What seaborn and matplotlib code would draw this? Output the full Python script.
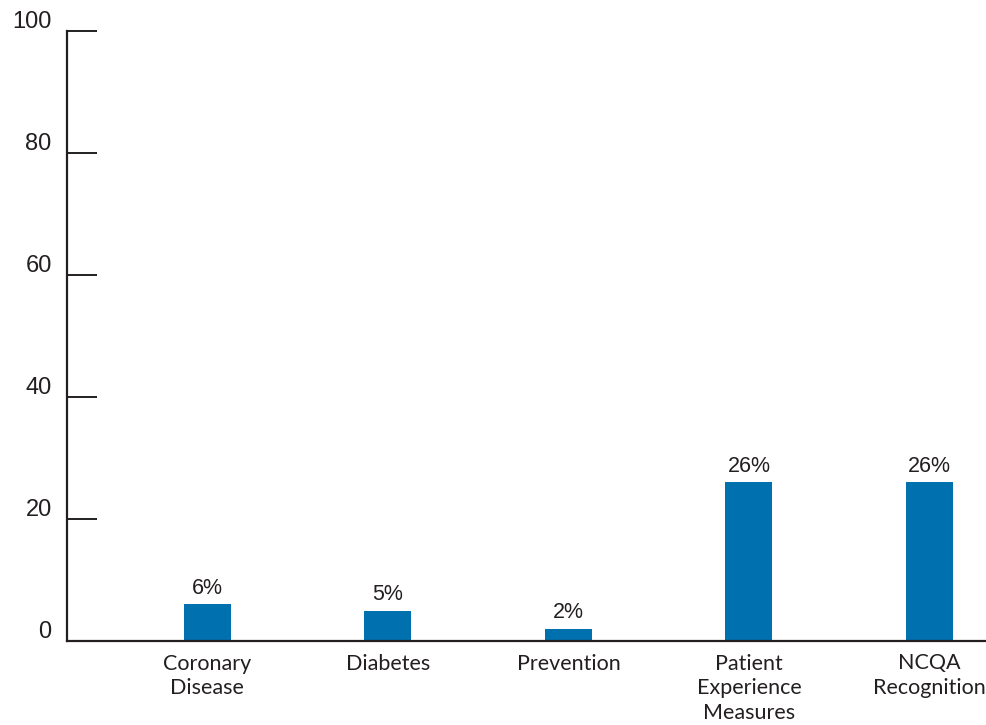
import matplotlib
matplotlib.use("Agg")
import matplotlib.pyplot as plt
import matplotlib.transforms as mtransforms
import seaborn as sns
import pandas as pd

# Share of practices reporting each measure category
categories = ["Coronary\nDisease", "Diabetes", "Prevention",
              "Patient\nExperience\nMeasures", "NCQA\nRecognition"]
values = [6, 5, 2, 26, 26]
y_ticks = [0, 20, 40, 60, 80, 100]

BAR_COLOR = "#0071AE"
TEXT_COLOR = "#231F20"

sns.set_theme(style="white")
plt.rcParams["font.family"] = ["Liberation Sans", "DejaVu Sans"]

df = pd.DataFrame({"category": categories, "value": values})

fig = plt.figure(figsize=(9.87, 7.25), dpi=100)
ax = fig.add_axes([67 / 987, 1 - 641 / 725, 1 - 67 / 987, (641 - 31) / 725])

sns.barplot(data=df, x="category", y="value", color=BAR_COLOR,
            width=0.26, saturation=1, linewidth=0, ax=ax)

ax.set_ylim(0, 100)
ax.set_xlim(-0.778, 4.319)
ax.set_yticks(y_ticks)
ax.set_yticklabels([str(t) for t in y_ticks])
ax.set_xlabel("")
ax.set_ylabel("")

for side in ("top", "right"):
    ax.spines[side].set_visible(False)
for side in ("left", "bottom"):
    ax.spines[side].set_color(TEXT_COLOR)
    ax.spines[side].set_linewidth(1.6)

ax.tick_params(axis="y", left=True, direction="in", length=21.6, width=1.4,
               color=TEXT_COLOR, labelsize=17, labelcolor=TEXT_COLOR, pad=11)
ax.tick_params(axis="x", bottom=False, length=0, pad=9, labelcolor=TEXT_COLOR)

# y labels sit a little above their ticks
shift = mtransforms.ScaledTranslation(0, 11 / 100, fig.dpi_scale_trans)
for lbl in ax.get_yticklabels():
    lbl.set_transform(lbl.get_transform() + shift)

for lbl in ax.get_xticklabels():
    lbl.set_fontfamily(["Lato", "DejaVu Sans"])
    lbl.set_fontsize(15.5)
    lbl.set_linespacing(1.3)
    lbl.set_verticalalignment("top")

ax.bar_label(ax.containers[0], labels=[f"{v}%" for v in values],
             padding=4, fontsize=15.5, color=TEXT_COLOR)

fig.savefig("out.png", dpi=100)
